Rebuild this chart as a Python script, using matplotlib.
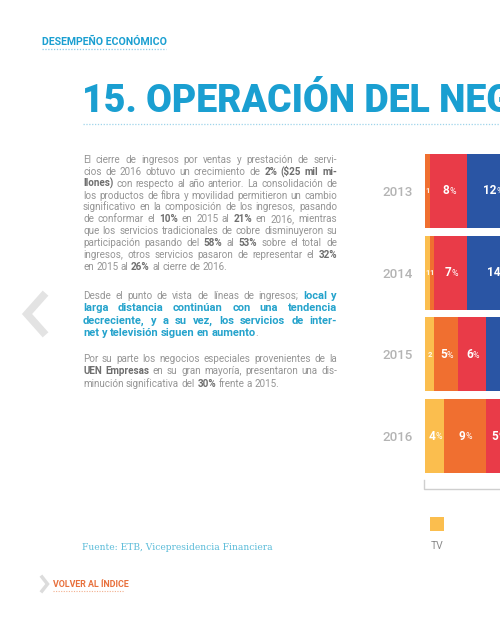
import matplotlib

matplotlib.use("Agg")
import matplotlib.pyplot as plt  # noqa: E402
from matplotlib.patches import Rectangle  # noqa: E402

plt.rcParams["font.family"] = ["Roboto", "DejaVu Sans"]

# datos del gráfico (participación % por línea de ingreso)
years = ["2013", "2014", "2015", "2016"]
series = ["TV", "Internet", "Larga distancia", "Local"]
tv = [0, 1, 2, 4]
internet = [1, 1, 5, 9]
larga = [8, 7, 6, 5]
local = [12, 14, 12, 13]
colors = ["#fbbe4e", "#f06f30", "#e93b48", "#2a55a4"]

# texto de la página: *negrita*, ~negrita azul~
para1 = [
    "El cierre de ingresos por ventas y prestación de servi-",
    "cios de 2016 obtuvo un crecimiento de *2% ($25 mil mi-*",
    "*llones)* con respecto al año anterior.  La consolidación de",
    "los productos de fibra y movilidad permitieron un cambio",
    "significativo  en la composición de los ingresos, pasando",
    "de conformar el *10%* en 2015 al *21%* en 2016, mientras",
    "que los servicios tradicionales de cobre disminuyeron su",
    "participación pasando del *58%* al *53%* sobre el total de",
    "ingresos, otros servicios pasaron de representar el *32%*",
    "en 2015 al *26%* al cierre de 2016.",
]
para2 = [
    "Desde el punto de vista de líneas de ingresos; ~local y~",
    "~larga distancia continúan con una tendencia~",
    "~decreciente, y a su vez, los servicios de inter-~",
    "~net y televisión siguen en aumento~.",
]
para3 = [
    "Por su parte los negocios especiales provenientes de la",
    "*UEN Empresas* en su gran mayoría, presentaron una dis-",
    "minución significativa del *30%* frente a 2015.",
]

STYLES = {
    "n": dict(color="#959595", fontweight="normal", fontsize=7.1),
    "b": dict(color="#6e6e6e", fontweight="bold", fontsize=7.1),
    "c": dict(color="#25a3cc", fontweight="bold", fontsize=8.0),
}


def parse(line):
    words, cur, seg, style = [], [], "", "n"
    for ch in line:
        if ch in "*~":
            if seg:
                cur.append((seg, style))
                seg = ""
            mark = "b" if ch == "*" else "c"
            style = "n" if style == mark else mark
        elif ch == " ":
            if seg:
                cur.append((seg, style))
                seg = ""
            if cur:
                words.append(cur)
                cur = []
        else:
            seg += ch
    if seg:
        cur.append((seg, style))
    if cur:
        words.append(cur)
    return words


def draw_paragraph(ax, renderer, lines, x0, y0, step, width):
    sp = ax.text(0, 0, "a a", **STYLES["n"])
    sa = ax.text(0, 0, "aa", **STYLES["n"])
    space = sp.get_window_extent(renderer).width - sa.get_window_extent(renderer).width
    sp.remove()
    sa.remove()
    for k, line in enumerate(lines):
        y = y0 + k * step
        words = parse(line)
        items, widths = [], []
        for word in words:
            parts = []
            w = 0.0
            for seg, st in word:
                t = ax.text(0, y, seg, va="baseline", ha="left", **STYLES[st])
                sw = t.get_window_extent(renderer).width
                parts.append((t, sw))
                w += sw
            items.append(parts)
            widths.append(w)
        last = k == len(lines) - 1
        if last or len(words) < 2:
            gap = space
        else:
            gap = max((width - sum(widths)) / (len(words) - 1), 0.6 * space)
        x = x0
        for parts, w in zip(items, widths):
            xx = x
            for t, sw in parts:
                t.set_x(xx)
                xx += sw
            x += w + gap


fig = plt.figure(figsize=(5, 6.25), dpi=100)
bg = fig.add_axes([0, 0, 1, 1])
bg.set_xlim(0, 500)
bg.set_ylim(625, 0)
bg.axis("off")
renderer = fig.canvas.get_renderer()

# encabezado
bg.text(42, 45, "DESEMPEÑO ECONÓMICO", fontsize=7.6, fontweight="bold",
        color="#1a9fd1", va="baseline")
bg.plot([42, 166], [48.5, 48.5], ls=(0, (1, 1.3)), lw=0.9, color="#8ccbe6")
bg.text(82, 112, "15. OPERACIÓN DEL NEGOCIO", fontsize=27, fontweight="black",
        color="#1a9fd1", va="baseline")
bg.plot([83, 500], [124, 124], ls=(0, (1, 1.3)), lw=0.9, color="#9fd4ea")

# texto
draw_paragraph(bg, renderer, para1, 83, 163, 11.85, 254)
draw_paragraph(bg, renderer, para2, 83, 299, 12.45, 254)
draw_paragraph(bg, renderer, para3, 83, 362, 12.5, 254)

bg.text(82, 550, "Fuente: ETB, Vicepresidencia Financiera", family="DejaVu Serif",
        fontsize=6.6, color="#5cbcd9", va="baseline")

# navegación
bg.plot([43, 27, 43], [296, 314, 332], color="#e3e3e3", lw=5.5,
        solid_joinstyle="miter")
bg.plot([42, 47.5, 42], [577, 584, 591], color="#dcdcdc", lw=2.5,
        solid_joinstyle="miter")
bg.text(53, 587, "VOLVER AL ÍNDICE", fontsize=6.4, fontweight="bold",
        color="#e8703c", va="baseline")
bg.plot([53, 124], [591, 591], ls=(0, (1, 1.3)), lw=0.8, color="#f2b08f")

# gráfico de barras apiladas
ax = fig.add_axes([425 / 500, 1 - 477 / 625, 470 / 500, 327 / 625])
ax.set_xlim(0, 100)
ax.set_ylim(3.5, -0.5)
ypos = list(range(len(years)))
lefts = [0] * len(years)
for vals, c in zip([tv, internet, larga, local], colors):
    ax.barh(ypos, vals, left=lefts, height=0.905, color=c, linewidth=0)
    for i, v in enumerate(vals):
        if v <= 0:
            continue
        cx = lefts[i] + v / 2
        if v <= 2:
            ax.text(cx, i, str(v), fontsize=5.5, color="white", alpha=0.9,
                    ha="center", va="center", fontweight="bold")
        else:
            ax.annotate(str(v), (cx, i), xytext=(0.5, 0), textcoords="offset points",
                        ha="right", va="center", fontsize=8.5, color="white",
                        fontweight="bold")
            ax.annotate("%", (cx, i), xytext=(0.5, -0.5), textcoords="offset points",
                        ha="left", va="center", fontsize=6.3, color="white")
    lefts = [a + b for a, b in zip(lefts, vals)]

ax.set_yticks(ypos, years)
ax.tick_params(axis="y", length=0, pad=9, labelsize=9.6, labelcolor="#b4b4b4")
for lab in ax.get_yticklabels():
    lab.set_fontweight("medium")
ax.set_xticks([])
for s in ax.spines.values():
    s.set_visible(False)

bg.plot([424, 424, 500], [480, 489, 489], color="#cfcfcf", lw=1)

# leyenda
for k, (name, c) in enumerate(zip(series, colors)):
    lx = 437 + 80 * k
    bg.add_patch(Rectangle((lx - 7, 517), 14, 14, color=c, lw=0))
    bg.text(lx, 546, name, fontsize=7.5, color="#8a8a8a", ha="center", va="center")

fig.savefig("out.png", dpi=100)
